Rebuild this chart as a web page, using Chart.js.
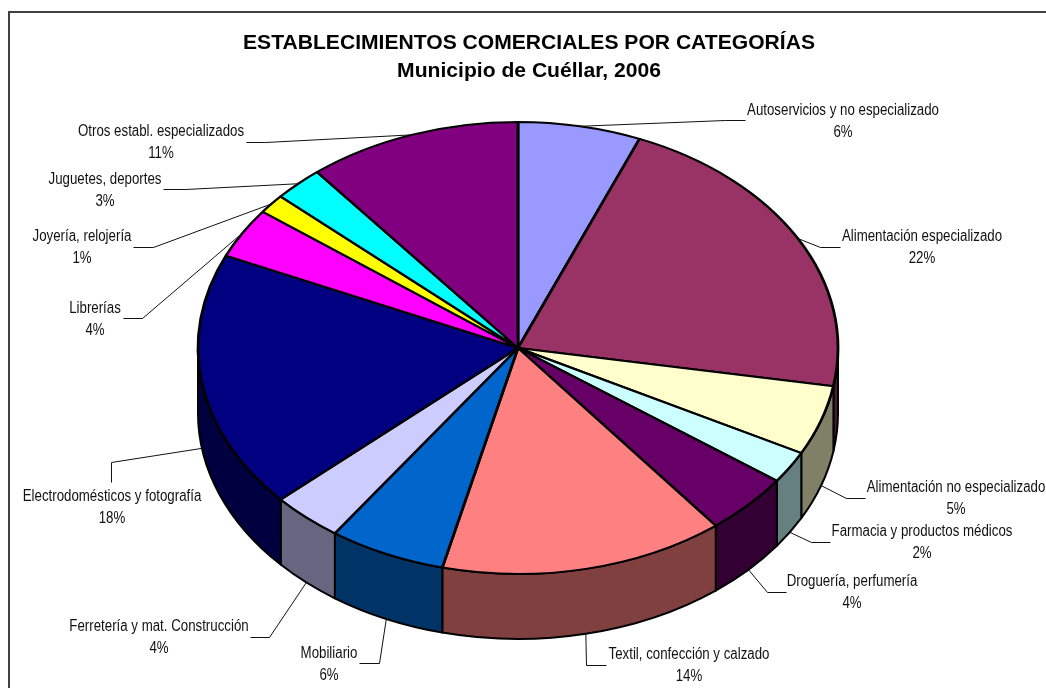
<!DOCTYPE html>
<html>
<head>
<meta charset="utf-8">
<title>Establecimientos comerciales</title>
<script src="https://cdn.jsdelivr.net/npm/chart.js@4/dist/chart.umd.min.js"></script>
<style>
  html, body { margin: 0; padding: 0; background: #fff; overflow: hidden; }
  canvas { display: block; }
</style>
</head>
<body>
<canvas id="pie" width="1046" height="688"></canvas>
<script>
const categories = [
  'Autoservicios y no especializado', 'Alimentación especializado', 'Alimentación no especializado',
  'Farmacia y productos médicos', 'Droguería, perfumería', 'Textil, confección y calzado',
  'Mobiliario', 'Ferretería y mat. Construcción', 'Electrodomésticos y fotografía',
  'Librerías', 'Joyería, relojería', 'Juguetes, deportes', 'Otros establ. especializados'
];
const shares = [6.2, 21.5, 5.0, 2.3, 4.4, 14.4, 5.9, 3.6, 18.4, 3.6, 1.4, 2.5, 10.8];
const topColors = ['#9999ff', '#993366', '#ffffcc', '#ccffff', '#660066', '#ff8080', '#0066cc',
  '#ccccff', '#000080', '#ff00ff', '#ffff00', '#00ffff', '#800080'];
const sideColors = ['#4d4d80', '#4d1a33', '#808066', '#668080', '#330033', '#804040', '#003366',
  '#666680', '#000040', '#800080', '#808000', '#008080', '#400040'];

// label placement: text centre, first baseline, and the elbow of the leader
const labelX = [843, 922, 956, 922, 852, 689, 329, 159, 112, 95, 82, 105, 161];
const labelY = [115, 241, 492, 536, 586, 659, 658, 631, 501, 313, 241, 184, 136];
const elbows = [
  [[745, 120], [725, 120]], [[840, 247], [820, 247]], [[865, 498], [846, 498]],
  [[830, 542], [811, 542]], [[786, 592], [767, 592]], [[606, 665], [586, 665]],
  [[359, 663], [379, 663]], [[250, 637], [269, 637]], [[111, 482], [111, 462]],
  [[123, 318], [142, 318]], [[133, 247], [153, 247]], [[163, 189], [185, 189]],
  [[246, 142], [265, 142]]
];

// pie seen at a tilt: flattened ellipse plus a wall below the front half
const tilt = { cx: 518, cy: 348, rx: 320, ry: 226, depth: 65 };
// the label face is a narrow Arial, so squeeze the regular one sideways
const labelSqueeze = 0.83;

const framePlugin = {
  id: 'frame',
  beforeDraw(chart) {
    const ctx = chart.ctx;
    ctx.save();
    ctx.strokeStyle = '#404040';
    ctx.lineWidth = 2;
    ctx.strokeRect(9, 12, 1100, 800);
    ctx.restore();
  }
};

const tiltPlugin = {
  id: 'tilt',
  beforeDatasetsDraw(chart) {
    const ctx = chart.ctx;
    const arcs = chart.getDatasetMeta(0).data;
    ctx.save();
    ctx.strokeStyle = '#000';
    ctx.lineWidth = 2;
    ctx.lineJoin = 'round';
    arcs.forEach((arc, i) => {
      const from = Math.max(arc.startAngle, 0);
      const to = Math.min(arc.endAngle, Math.PI);
      if (from >= to) return;
      ctx.beginPath();
      ctx.ellipse(tilt.cx, tilt.cy, tilt.rx, tilt.ry, 0, from, to);
      ctx.ellipse(tilt.cx, tilt.cy + tilt.depth, tilt.rx, tilt.ry, 0, to, from, true);
      ctx.closePath();
      ctx.fillStyle = sideColors[i];
      ctx.fill();
      ctx.stroke();
    });
    ctx.restore();

    // the library's own arcs get drawn through this squash
    const first = arcs[0];
    ctx.save();
    ctx.translate(tilt.cx, tilt.cy);
    ctx.scale(tilt.rx / first.outerRadius, tilt.ry / first.outerRadius);
    ctx.translate(-first.x, -first.y);
  },
  afterDatasetsDraw(chart) {
    chart.ctx.restore();
  }
};

const labelPlugin = {
  id: 'sliceLabels',
  afterDraw(chart) {
    const ctx = chart.ctx;
    const arcs = chart.getDatasetMeta(0).data;
    const squeezed = (text, x, y) => {
      ctx.fillText(text, x, y, ctx.measureText(text).width * labelSqueeze);
    };
    ctx.save();
    ctx.font = '16px "Liberation Sans", Arial, sans-serif';
    ctx.textAlign = 'center';
    ctx.textBaseline = 'alphabetic';
    ctx.fillStyle = '#111';
    ctx.strokeStyle = '#111';
    ctx.lineWidth = 1;
    arcs.forEach((arc, i) => {
      const mid = (arc.startAngle + arc.endAngle) / 2;
      const onFront = Math.sin(mid) > 0;
      const tipX = tilt.cx + tilt.rx * Math.cos(mid);
      const tipY = tilt.cy + tilt.ry * Math.sin(mid) + (onFront ? tilt.depth : 0);
      ctx.beginPath();
      ctx.moveTo(elbows[i][0][0] + 0.5, elbows[i][0][1] + 0.5);
      ctx.lineTo(elbows[i][1][0] + 0.5, elbows[i][1][1] + 0.5);
      ctx.lineTo(tipX, tipY);
      ctx.stroke();
      squeezed(categories[i], labelX[i], labelY[i]);
      squeezed(Math.round(shares[i]) + '%', labelX[i], labelY[i] + 21.5);
    });
    ctx.restore();
  }
};

new Chart(document.getElementById('pie'), {
  type: 'pie',
  data: {
    labels: categories,
    datasets: [{
      data: shares,
      backgroundColor: topColors,
      borderColor: '#000',
      borderWidth: 2.6,
      borderAlign: 'center',
      clip: false
    }]
  },
  options: {
    responsive: false,
    animation: false,
    layout: { padding: { left: 100, right: 88 } },
    plugins: {
      legend: { display: false },
      tooltip: { enabled: false },
      title: {
        display: true,
        fullSize: false,
        text: ['ESTABLECIMIENTOS COMERCIALES POR CATEGORÍAS', 'Municipio de Cuéllar, 2006'],
        color: '#000',
        font: { family: '"Liberation Sans", Arial, sans-serif', size: 21.1, weight: 'bold', lineHeight: 1.33 },
        padding: { top: 29, bottom: 8 }
      }
    }
  },
  plugins: [framePlugin, tiltPlugin, labelPlugin]
});
</script>
</body>
</html>
